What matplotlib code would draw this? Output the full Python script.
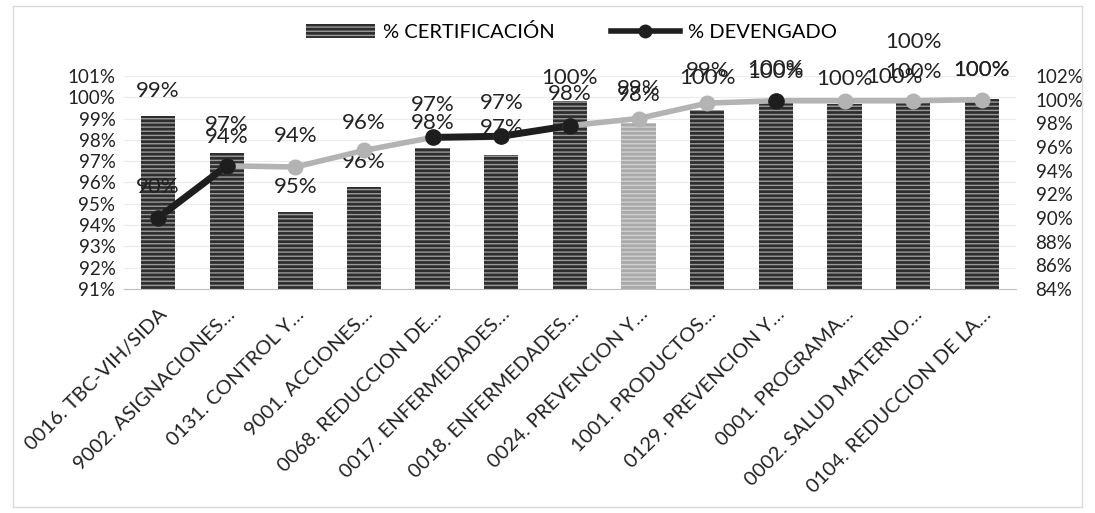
import numpy as np
import matplotlib.pyplot as plt
from matplotlib.patches import Patch, Rectangle
from matplotlib.lines import Line2D
from matplotlib.ticker import PercentFormatter

plt.rcParams['font.family'] = ['Lato', 'DejaVu Sans']
plt.rcParams['hatch.linewidth'] = 1.0

categorias = ['0016. TBC-VIH/SIDA', '9002. ASIGNACIONES…', '0131. CONTROL Y…',
              '9001. ACCIONES…', '0068. REDUCCION DE…', '0017. ENFERMEDADES…',
              '0018. ENFERMEDADES…', '0024. PREVENCION Y…', '1001. PRODUCTOS…',
              '0129. PREVENCION Y…', '0001. PROGRAMA…', '0002. SALUD MATERNO…',
              '0104. REDUCCION DE LA…']
certificacion = [0.991, 0.974, 0.946, 0.958, 0.976, 0.973, 0.998, 0.988, 0.994, 0.999, 0.997, 0.998, 0.999]
devengado = [0.900, 0.944, 0.943, 0.957, 0.968, 0.969, 0.978, 0.984, 0.997, 0.999, 0.999, 0.999, 1.000]

# label offsets (points)
bar_dy = [18, 20, 18, 18, 18, 19, 17, 24, 28, 22, 18, 21, 21]
dev_dx = [0, 0, 0, 0, 0, 0, 0, 0, 0, 0, 36, 0, 0]
dev_dy = [22, 21, 22, 20, 23, 24, 23, 17, 18, 21, 17, 42, 21]
dark_pts = [0, 1, 4, 5, 6, 9]

x = np.arange(len(categorias))
fig = plt.figure(figsize=(10.95, 5.13), dpi=100)
fig.patches.append(Rectangle((0.012, 0.012), 0.976, 0.976, transform=fig.transFigure,
                             fill=False, edgecolor='#d9d9d9', linewidth=1))
ax = fig.add_axes([0.113, 0.437, 0.815, 0.415])
ax2 = ax.twinx()

colores = ['#2e2e2e'] * len(x)
colores[7] = '#a9a9a9'
for xi, v, c in zip(x, certificacion, colores):
    ax.bar(xi, v - 0.91, bottom=0.91, width=0.5, color=c, hatch='----',
           edgecolor='#9a9a9a' if c == '#2e2e2e' else '#d0d0d0', linewidth=0, zorder=2)

ax.set_ylim(0.91, 1.01)
ax.set_yticks(np.arange(0.91, 1.0101, 0.01))
ax.yaxis.set_major_formatter(PercentFormatter(1.0, decimals=0))
ax.set_xlim(-0.5, len(x) - 0.5)
ax.set_xticks(x)
ax.set_xticklabels(categorias, rotation=45, ha='right', rotation_mode='anchor', color='#222222')
ax.grid(axis='y', color='#ebebeb', linewidth=0.8, zorder=0)
ax.set_axisbelow(True)

ax2.plot(x, devengado, color='#b3b3b3', linewidth=4, zorder=3)
ax2.plot(x[:2], devengado[:2], color='#1e1e1e', linewidth=5, zorder=4)
ax2.plot(x[4:7], devengado[4:7], color='#1e1e1e', linewidth=5, zorder=4)
ax2.scatter(x, devengado, s=110, color='#b3b3b3', zorder=5)
ax2.scatter(x[dark_pts], np.array(devengado)[dark_pts], s=120, color='#1e1e1e', zorder=6)
ax2.set_ylim(0.84, 1.02)
ax2.set_yticks(np.arange(0.84, 1.0201, 0.02))
ax2.yaxis.set_major_formatter(PercentFormatter(1.0, decimals=0))

for a in (ax, ax2):
    for s in a.spines.values():
        s.set_visible(False)
    a.tick_params(length=0, labelsize=13.5, colors='#222222', pad=6)
ax2.tick_params(pad=14)
ax.spines['bottom'].set_visible(True)
ax.spines['bottom'].set_color('#bfbfbf')
ax.tick_params(axis='x', pad=12, labelsize=14.5)

for xi, v, dy in zip(x, certificacion, bar_dy):
    ax.annotate(f'{v:.0%}', (xi, v), xytext=(0, dy), textcoords='offset points',
                ha='center', va='center', fontsize=16, color='#222222', zorder=7)
for xi, v, dx, dy in zip(x, devengado, dev_dx, dev_dy):
    ax2.annotate(f'{v:.0%}', (xi, v), xytext=(dx, dy), textcoords='offset points',
                 ha='center', va='center', fontsize=16, color='#222222', zorder=7)

handles = [Patch(facecolor='#2e2e2e', hatch='----', edgecolor='#9a9a9a', linewidth=0),
           Line2D([0], [0], color='#1e1e1e', linewidth=4, marker='o', markersize=9)]
fig.legend(handles, ['% CERTIFICACIÓN', '% DEVENGADO'], loc='center', bbox_to_anchor=(0.522, 0.937),
           ncol=2, frameon=False, fontsize=14.5, columnspacing=2.8, handlelength=3.4, handletextpad=0.4)

fig.savefig('out.png', dpi=100)
